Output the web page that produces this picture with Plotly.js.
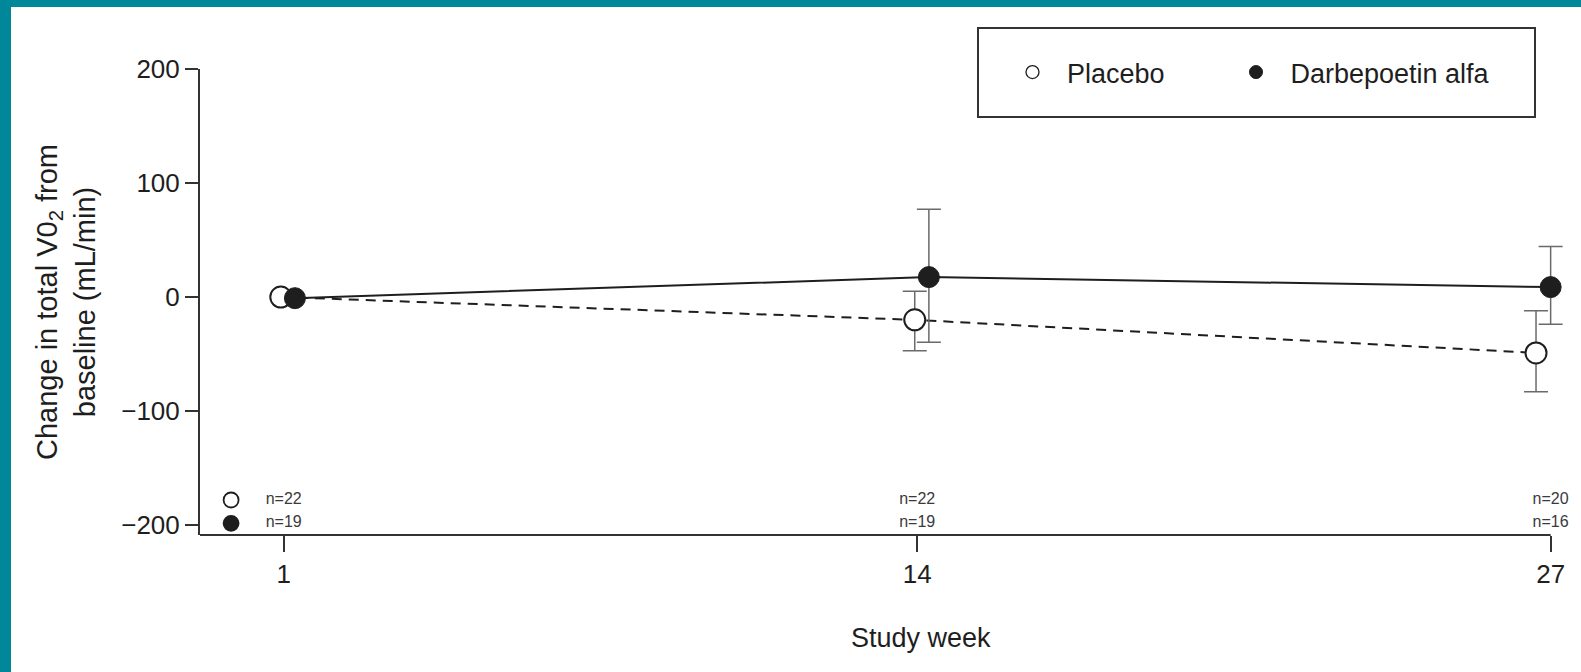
<!DOCTYPE html>
<html><head><meta charset="utf-8">
<script src="https://cdn.plot.ly/plotly-3.0.1.min.js"></script>
<style>
html,body{margin:0;padding:0;background:#01879a;width:1581px;height:672px;overflow:hidden}
#chart{position:absolute;left:11px;top:7px;width:1570px;height:665px;background:#fff}
</style></head><body><div id="chart"></div>
<script>
// ---- data ----
const weeks = [1, 14, 27];
const weekLabels = ['1', '14', '27'];
const placeboMean = [0, -20, -49];
const placeboErrUp = [null, 25, 37];
const placeboErrDown = [null, 27, 34];
const darbeMean = [-1, 17.5, 8.7];
const darbeErrUp = [null, 59.6, 35.6];
const darbeErrDown = [null, 57.1, 32.5];
const placeboN = [22, 22, 20];
const darbeN = [19, 19, 16];
const yTicks = [-200, -100, 0, 100, 200];
const seriesNames = ['Placebo', 'Darbepoetin alfa'];

// ---- styling / placement ----
const FONT = '"Liberation Sans", Arial, Helvetica, sans-serif';
const INK = '#1e1e1e';
const placeboDodge = [-0.06, -0.05, -0.30];
const darbeDodge = [0.23, 0.24, 0.0];
const nRowY = [-178, -198.5];
const keyX = -0.08;
const xMin = -0.718, xMax = 27.5, yMin = -208.7, yMax = 200;

const toNaN = a => a.map(v => (v === null ? NaN : v));
const shift = (xs, d) => xs.map((x, i) => x + d[i]);

const errStyle = {type: 'data', symmetric: false, color: '#6a6a6a', thickness: 1.5, width: 12};

const traces = [
  {
    type: 'scatter', mode: 'lines+markers', name: seriesNames[0], showlegend: false,
    x: shift(weeks, placeboDodge), y: placeboMean,
    line: {color: INK, width: 2, dash: '10px,7px'},
    marker: {symbol: 'circle', size: 21, color: '#ffffff', line: {color: INK, width: 2}},
    error_y: Object.assign({array: toNaN(placeboErrUp), arrayminus: toNaN(placeboErrDown)}, errStyle),
    cliponaxis: false, hoverinfo: 'x+y'
  },
  {
    type: 'scatter', mode: 'lines+markers', name: seriesNames[1], showlegend: false,
    x: shift(weeks, darbeDodge), y: darbeMean,
    line: {color: INK, width: 2},
    marker: {symbol: 'circle', size: 21, color: INK, line: {color: INK, width: 1}},
    error_y: Object.assign({array: toNaN(darbeErrUp), arrayminus: toNaN(darbeErrDown)}, errStyle),
    cliponaxis: false, hoverinfo: 'x+y'
  },
  // n counts under each week
  {
    type: 'scatter', mode: 'text', showlegend: false, hoverinfo: 'skip',
    x: weeks, y: weeks.map(() => nRowY[0]), text: placeboN.map(n => 'n=' + n),
    textfont: {family: FONT, size: 16, color: '#3a3a3a'}, cliponaxis: false
  },
  {
    type: 'scatter', mode: 'text', showlegend: false, hoverinfo: 'skip',
    x: weeks, y: weeks.map(() => nRowY[1]), text: darbeN.map(n => 'n=' + n),
    textfont: {family: FONT, size: 16, color: '#3a3a3a'}, cliponaxis: false
  },
  // key symbols for the n rows
  {
    type: 'scatter', mode: 'markers', showlegend: false, hoverinfo: 'skip',
    x: [keyX, keyX], y: nRowY,
    marker: {size: 15, color: ['#ffffff', INK], line: {color: INK, width: 1.8}}
  },
  // legend entries
  {
    type: 'scatter', mode: 'markers', name: seriesNames[0], x: [null], y: [null], legend: 'legend',
    marker: {symbol: 'circle', size: 13, color: '#ffffff', line: {color: INK, width: 1.3}}
  },
  {
    type: 'scatter', mode: 'markers', name: seriesNames[1], x: [null], y: [null], legend: 'legend2',
    marker: {symbol: 'circle', size: 13, color: INK, line: {color: INK, width: 1}}
  }
];

const W = 1570, H = 665;
const plotL = 189, plotT = 62, plotB = 137;
const pxPerWeek = 48.74;
const pw = Math.round((xMax - xMin) * pxPerWeek);
const plotR = W - plotL - pw;
const ph = H - plotT - plotB;
// page pixel -> paper coordinate helpers (page x = div x + 11, page y = div y + 7)
const px = x => (x - 11 - plotL) / pw;
const py = y => (H - plotB - (y - 7)) / ph;

const legendBase = {
  orientation: 'h', xanchor: 'left', y: py(72.5), yanchor: 'middle',
  bgcolor: 'rgba(0,0,0,0)', borderwidth: 0,
  font: {family: FONT, size: 27, color: INK},
  itemwidth: 59, itemclick: false, itemdoubleclick: false
};

const layout = {
  width: W, height: H,
  margin: {l: plotL, r: plotR, t: plotT, b: plotB, pad: 0},
  paper_bgcolor: '#ffffff', plot_bgcolor: '#ffffff',
  font: {family: FONT, color: INK, size: 26},
  showlegend: true,
  legend: Object.assign({}, legendBase, {x: px(998)}),
  legend2: Object.assign({}, legendBase, {x: px(1221.5)}),
  xaxis: {
    range: [xMin, xMax], tickmode: 'array', tickvals: weeks, ticktext: weekLabels,
    ticks: 'outside', ticklen: 16, tickwidth: 2, tickcolor: '#333',
    showline: false, showgrid: false, zeroline: false,
    tickfont: {family: FONT, size: 26, color: INK}, fixedrange: true
  },
  yaxis: {
    range: [yMin, yMax], tickmode: 'array', tickvals: yTicks,
    ticks: 'outside', ticklen: 13, tickwidth: 2, tickcolor: '#333',
    showline: true, linecolor: '#333', linewidth: 2,
    showgrid: false, zeroline: false,
    tickfont: {family: FONT, size: 26, color: INK}, fixedrange: true,
    title: {text: 'Change in total V0<sub>2</sub> from<br>baseline (mL/min)',
            font: {family: FONT, size: 29, color: INK}, standoff: 17}
  },
  shapes: [
    // x axis line, ending at the last week
    {type: 'line', xref: 'x', yref: 'paper', x0: xMin, x1: weeks[weeks.length - 1], y0: 0, y1: 0,
     line: {color: '#333', width: 2}, layer: 'above'},
    // legend frame
    {type: 'rect', xref: 'paper', yref: 'paper',
     x0: px(978), x1: px(1535), y0: py(117), y1: py(28),
     line: {color: '#333', width: 2}, fillcolor: 'rgba(0,0,0,0)', layer: 'above'}
  ],
  annotations: [
    {text: 'Study week', xref: 'paper', yref: 'paper', x: px(921), y: py(638),
     xanchor: 'center', yanchor: 'middle', showarrow: false,
     font: {family: FONT, size: 27, color: INK}}
  ]
};

Plotly.newPlot('chart', traces, layout, {displayModeBar: false, responsive: false});
</script></body></html>
